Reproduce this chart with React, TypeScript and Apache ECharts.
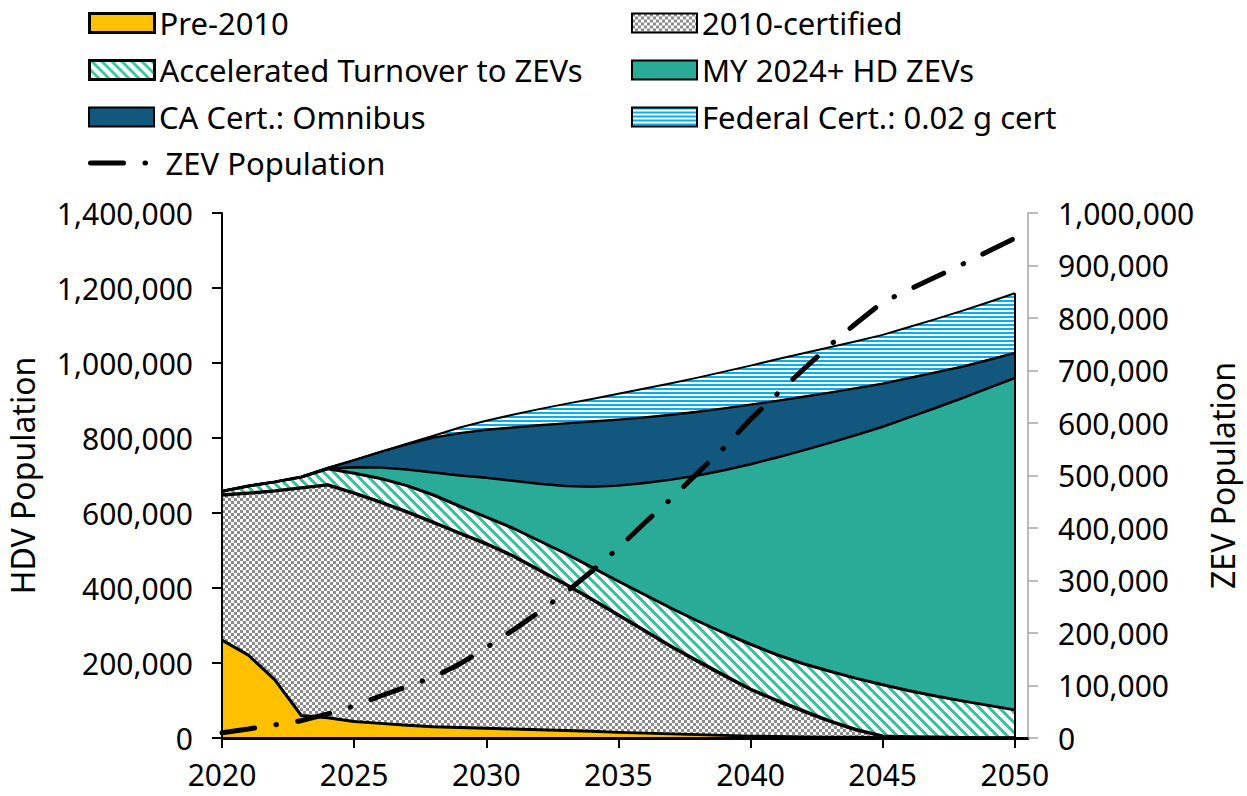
import React, { useEffect, useRef } from 'react';
import * as echarts from 'echarts';

const years = [2020, 2021, 2022, 2023, 2024, 2025, 2026, 2027, 2028, 2029, 2030, 2031, 2032, 2033, 2034, 2035, 2036, 2037, 2038, 2039, 2040, 2041, 2042, 2043, 2044, 2045, 2046, 2047, 2048, 2049, 2050];

const pre2010 = [261000, 221000, 155000, 60000, 54000, 44000, 39000, 34000, 30000, 28000, 26000, 24000, 22000, 20000, 18000, 15000, 13000, 11000, 9000, 7000, 5000, 4000, 3000, 2000, 2000, 1000, 1000, 1000, 0, 0, 0];
const cert2010 = [387000, 432000, 504000, 607000, 621000, 609000, 590000, 569000, 545000, 518000, 492000, 462000, 426000, 390000, 352000, 313000, 273000, 233000, 196000, 160000, 125000, 96000, 69000, 43000, 20000, 4000, 2000, 1000, 1000, 0, 0];
const accelerated = [10000, 19000, 24000, 29000, 43000, 53000, 63000, 70000, 73000, 72000, 71000, 74000, 78000, 82000, 85000, 90000, 96000, 102000, 107000, 113000, 120000, 122000, 126000, 133000, 137000, 137000, 123000, 110000, 98000, 87000, 75000];
const my2024Zev = [0, 0, 0, 0, 0, 16000, 29000, 43000, 60000, 82000, 105000, 126000, 152000, 180000, 215000, 255000, 298000, 343000, 388000, 434000, 480000, 526000, 569000, 609000, 649000, 688000, 729000, 768000, 807000, 846000, 885000];
const caOmnibus = [0, 0, 0, 0, 2000, 19000, 42000, 67000, 93000, 113000, 128000, 142000, 156000, 167000, 174000, 176000, 175000, 173000, 170000, 165000, 159000, 151000, 143000, 134000, 125000, 115000, 105000, 95000, 84000, 75000, 67000];
const federal = [0, 0, 0, 0, 0, 0, 0, 2000, 5000, 15000, 24000, 34000, 43000, 52000, 60000, 69000, 77000, 84000, 91000, 98000, 104000, 111000, 116000, 121000, 125000, 130000, 136000, 142000, 149000, 154000, 159000];
const zevPopulation = [10000, 17000, 25000, 33000, 46000, 61000, 80000, 98000, 116000, 141000, 172000, 205000, 240000, 277000, 318000, 362000, 410000, 456000, 505000, 553000, 607000, 655000, 702000, 748000, 790000, 830000, 854000, 878000, 902000, 927000, 952000];

const xTicks = [2020, 2025, 2030, 2035, 2040, 2045, 2050];

const FONT = 'Noto Sans';

function makePattern(w: number, h: number, fn: (x: number, y: number) => string) {
  const c = document.createElement('canvas');
  c.width = w;
  c.height = h;
  const ctx = c.getContext('2d')!;
  for (let y = 0; y < h; y++) {
    for (let x = 0; x < w; x++) {
      ctx.fillStyle = fn(x, y);
      ctx.fillRect(x, y, 1, 1);
    }
  }
  return { image: c, repeat: 'repeat', imageWidth: w, imageHeight: h } as any;
}

export default function App() {
  const ref = useRef<HTMLDivElement>(null);
  useEffect(() => {
    if (!ref.current) return;
    const chart = echarts.init(ref.current, null, { renderer: 'svg' });

    const checker = makePattern(6, 6, (x, y) => ((Math.floor(x / 3) + Math.floor(y / 3)) % 2 === 0 ? '#8c8c8c' : '#ffffff'));
    const diag = makePattern(10, 10, (x, y) => ((((x - y) % 10) + 10) % 10 < 4 ? '#2fc89a' : '#ffffff'));
    const hstripe = makePattern(4, 4, (x, y) => (y % 4 < 2 ? '#00b0f0' : '#ffffff'));

    const layers = [
      { name: 'Pre-2010', data: pre2010, fill: '#FFC000', edge: 3, border: 3 },
      { name: '2010-certified', data: cert2010, fill: checker, edge: 3.5, border: 2 },
      { name: 'Accelerated Turnover to ZEVs', data: accelerated, fill: diag, edge: 3, border: 3 },
      { name: 'MY 2024+ HD ZEVs', data: my2024Zev, fill: '#29AB98', edge: 2.5, border: 2 },
      { name: 'CA Cert.: Omnibus', data: caOmnibus, fill: '#12587E', edge: 2.5, border: 2 },
      { name: 'Federal Cert.: 0.02 g cert', data: federal, fill: hstripe, edge: 2, border: 2 },
    ];

    const lastIdx = years.length - 1;
    const totalEnd = layers.reduce((s, l) => s + l.data[lastIdx], 0);

    // value first, year second, so that the stack is applied to the value dimension
    const pairs = (arr: number[]) => years.map((y, i) => [arr[i], y]);

    const areaSeries = layers.map((l) => ({
      type: 'line',
      name: l.name,
      stack: 'hdv',
      data: pairs(l.data),
      encode: { x: 1, y: 0 },
      symbol: 'none',
      showSymbol: false,
      lineStyle: { width: 0 },
      itemStyle: { color: l.fill },
      areaStyle: { color: l.fill, opacity: 1 },
      z: 2,
      silent: true,
    }));

    const edgeSeries = layers.map((l, k) => ({
      type: 'line',
      name: l.name + ' edge',
      stack: 'edges',
      data: pairs(l.data),
      encode: { x: 1, y: 0 },
      symbol: 'none',
      showSymbol: false,
      lineStyle: { color: '#000', width: l.edge, join: 'round' },
      itemStyle: { color: '#000' },
      z: 3,
      silent: true,
      ...(k === layers.length - 1
        ? {
            markLine: {
              silent: true,
              symbol: 'none',
              label: { show: false },
              lineStyle: { color: '#000', width: 2, type: 'solid' },
              data: [[{ coord: [years[lastIdx], 0] }, { coord: [years[lastIdx], totalEnd] }]],
            },
          }
        : {}),
    }));

    const zevStyle = { color: '#000', width: 5, type: [33, 21.5, 0.5, 21.5], cap: 'round' };

    const zevSeries = {
      type: 'line',
      name: 'ZEV Population',
      yAxisIndex: 1,
      data: years.map((y, i) => [y, zevPopulation[i]]),
      symbol: 'none',
      showSymbol: false,
      lineStyle: zevStyle,
      itemStyle: { color: '#000' },
      z: 6,
      silent: true,
    };

    const legendBase = {
      orient: 'horizontal',
      padding: 0,
      itemWidth: 65,
      itemHeight: 19,
      selectedMode: false,
      textStyle: { fontSize: 31, fontFamily: FONT, color: '#000', lineHeight: 36 },
    };
    const rowC = [23, 70, 117, 163];
    const colL = [88, 631];
    const legendItem = (i: number, col: number, row: number) => ({
      ...legendBase,
      left: colL[col],
      top: rowC[row] - 18,
      data: [
        {
          name: layers[i].name,
          icon: 'rect',
          itemStyle: { color: layers[i].fill, borderColor: '#000', borderWidth: layers[i].border },
        },
      ],
    });

    const fmt = (v: number) => Math.round(v).toLocaleString('en-US');

    chart.setOption({
      animation: false,
      backgroundColor: '#fff',
      grid: { left: 222, right: 219, top: 213, bottom: 58, containLabel: false, outerBoundsMode: 'none' },
      legend: [
        legendItem(0, 0, 0),
        legendItem(1, 1, 0),
        legendItem(2, 0, 1),
        legendItem(3, 1, 1),
        legendItem(4, 0, 2),
        legendItem(5, 1, 2),
        {
          ...legendBase,
          itemWidth: 70,
          left: colL[0],
          top: rowC[3] - 18,
          data: [
            {
              name: 'ZEV Population',
              itemStyle: { opacity: 0, color: 'transparent', borderWidth: 0 },
              lineStyle: zevStyle,
            },
          ],
        },
      ],
      xAxis: {
        type: 'value',
        min: 2020,
        max: 2050.5,
        interval: 5,
        z: 5,
        axisLine: { show: true, onZero: false, lineStyle: { color: '#000', width: 3 } },
        axisTick: { show: true, length: 10, lineStyle: { color: '#000', width: 2 }, customValues: xTicks },
        axisLabel: {
          fontSize: 30,
          lineHeight: 30,
          fontFamily: FONT,
          color: '#000',
          margin: 21,
          customValues: xTicks,
          formatter: (v: number) => (v % 5 === 0 ? String(v) : ''),
        },
        splitLine: { show: false },
      },
      yAxis: [
        {
          type: 'value',
          min: 0,
          max: 1400000,
          interval: 200000,
          position: 'left',
          z: 5,
          axisLine: { show: true, lineStyle: { color: '#000', width: 2 } },
          axisTick: { show: true, length: 10, lineStyle: { color: '#000', width: 2 } },
          axisLabel: { fontSize: 30, lineHeight: 30, fontFamily: FONT, color: '#000', margin: 29, formatter: fmt },
          splitLine: { show: false },
          name: 'HDV Population',
          nameLocation: 'middle',
          nameGap: 183,
          nameRotate: 90,
          nameTextStyle: { fontSize: 32, lineHeight: 34, fontFamily: FONT, color: '#000' },
        },
        {
          type: 'value',
          min: 0,
          max: 1000000,
          interval: 100000,
          position: 'right',
          z: 5,
          axisLine: { show: true, lineStyle: { color: '#a6a6a6', width: 1.5 } },
          axisTick: { show: true, length: 10, lineStyle: { color: '#a6a6a6', width: 1.5 } },
          axisLabel: { fontSize: 30, lineHeight: 30, fontFamily: FONT, color: '#000', margin: 30, formatter: fmt },
          splitLine: { show: false },
          name: 'ZEV Population',
          nameLocation: 'middle',
          nameGap: 176,
          nameRotate: 90,
          nameTextStyle: { fontSize: 32, lineHeight: 34, fontFamily: FONT, color: '#000' },
        },
      ],
      series: [...areaSeries, ...edgeSeries, zevSeries],
    } as any);

    return () => chart.dispose();
  }, []);

  return <div ref={ref} style={{ position: 'absolute', left: 0, top: 0, width: 1247, height: 796 }} />;
}
